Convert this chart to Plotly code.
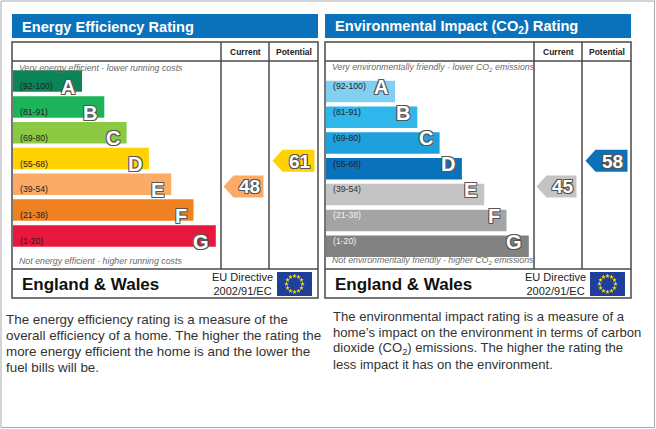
import plotly.graph_objects as go
import numpy as np

# rating bands shared by both charts
bands = ['A', 'B', 'C', 'D', 'E', 'F', 'G']
band_ranges = ['(92-100)', '(81-91)', '(69-80)', '(55-68)', '(39-54)', '(21-38)', '(1-20)']
band_lows = [92, 81, 69, 55, 39, 21, 1]

# energy efficiency chart
ee_colors = ['#0b8457', '#1bb45a', '#8cc942', '#ffd200', '#fbab66', '#f08121', '#e8173c']
ee_label_colors = ['#222'] * 7
ee_current = 48
ee_potential = 61

# environmental impact chart
ei_colors = ['#83cff1', '#2fb6eb', '#1da0dc', '#0a72ba', '#c4c4c4', '#a4a4a4', '#828282']
ei_label_colors = ['#222', '#222', '#222', '#222', '#333', '#f2f2f2', '#f2f2f2']
ei_current = 45
ei_potential = 58

ee_text = ['The energy efficiency rating is a measure of the',
           'overall efficiency of a home. The higher the rating the',
           'more energy efficient the home is and the lower the',
           'fuel bills will be.']
ei_text = ['The environmental impact rating is a measure of a',
           'home’s impact on the environment in terms of carbon',
           'dioxide (CO<sub>2</sub>) emissions. The higher the rating the',
           'less impact it has on the environment.']

W, H = 656, 429
FONT = 'Liberation Sans, Arial, sans-serif'
OUTLINE = '-1px -1px 0 #555, 1px -1px 0 #555, -1px 1px 0 #555, 1px 1px 0 #555'

fig = go.Figure()
shapes = []
annotations = []


def band_of(rating):
    for i, low in enumerate(band_lows):
        if rating >= low:
            return i
    return len(band_lows) - 1


def draw_panel(x0, title, top_text, bottom_text, colors, label_colors, current, potential):
    """Draws one EPC style panel starting at pixel x0"""
    right = x0 + 306
    col1 = x0 + 209
    col2 = x0 + 257
    bar_h = 21.5
    tops = [75.5 + 25.8 * i for i in range(7)]
    centers = [t + bar_h / 2 for t in tops]
    lengths = [69 + 22.3 * i for i in range(7)]

    # title bar
    shapes.append(dict(type='rect', x0=x0, x1=right, y0=14, y1=38,
                       fillcolor='#0a72ba', line_width=0, layer='below'))
    annotations.append(dict(x=x0 + 8, y=26.5, text='<b>' + title + '</b>', xanchor='left',
                            font=dict(size=14.6, color='white', family=FONT)))

    # table frame and grid
    line = dict(color='#4a4a4a', width=1.5)
    shapes.append(dict(type='rect', x0=x0, x1=right, y0=42, y1=298, line=line))
    shapes.append(dict(type='line', x0=x0, x1=right, y0=61, y1=61, line=line))
    shapes.append(dict(type='line', x0=x0, x1=right, y0=269, y1=269, line=line))
    shapes.append(dict(type='line', x0=col1, x1=col1, y0=42, y1=269, line=line))
    shapes.append(dict(type='line', x0=col2, x1=col2, y0=42, y1=269, line=line))
    annotations.append(dict(x=(col1 + col2) / 2, y=51.5, text='<b>Current</b>',
                            font=dict(size=8.5, color='#222', family=FONT)))
    annotations.append(dict(x=(col2 + right) / 2, y=51.5, text='<b>Potential</b>',
                            font=dict(size=8.5, color='#222', family=FONT)))

    annotations.append(dict(x=x0 + 5, y=67.5, text=top_text, xanchor='left',
                            font=dict(size=8.8, color='#6a6a6a', family=FONT, style='italic')))
    annotations.append(dict(x=x0 + 5, y=260.5, text=bottom_text, xanchor='left',
                            font=dict(size=8.8, color='#6a6a6a', family=FONT, style='italic')))

    # rating bars
    fig.add_trace(go.Bar(
        y=centers, x=lengths, base=x0 + 1, orientation='h', width=bar_h,
        marker=dict(color=colors, line_width=0), hoverinfo='skip', showlegend=False))
    for i in range(7):
        annotations.append(dict(x=x0 + 6, y=centers[i], text=band_ranges[i], xanchor='left',
                                font=dict(size=8.7, color=label_colors[i], family=FONT)))
        annotations.append(dict(x=x0 + 1 + lengths[i] - 5, y=centers[i] + 0.5,
                                text='<b>' + bands[i] + '</b>', xanchor='right',
                                font=dict(size=20, color='white', family=FONT, shadow=OUTLINE)))

    # current and potential arrows
    for rating, xl, xr in [(current, col1 + 2.5, col2 - 5.5), (potential, col2 + 3.5, right - 3.5)]:
        i = band_of(rating)
        yc = centers[i] - 3
        tip = 10
        fig.add_trace(go.Scatter(
            x=[xl, xl + tip, xr, xr, xl + tip, xl],
            y=[yc, yc - 11, yc - 11, yc + 11, yc + 11, yc],
            fill='toself', fillcolor=colors[i], mode='lines', line_width=0,
            hoverinfo='skip', showlegend=False))
        annotations.append(dict(x=(xl + tip + xr) / 2 + 1, y=yc + 0.5, text='<b>%d</b>' % rating,
                                font=dict(size=19, color='white', family=FONT, shadow=OUTLINE)))

    # footer with EU flag
    annotations.append(dict(x=x0 + 8, y=284, text='<b>England & Wales</b>', xanchor='left',
                            font=dict(size=17, color='#111', family=FONT)))
    annotations.append(dict(x=x0 + 230, y=284, text='EU Directive<br>2002/91/EC', align='center',
                            font=dict(size=11, color='#222', family=FONT)))
    fx0, fx1, fy0, fy1 = x0 + 265, x0 + 300, 272, 296
    shapes.append(dict(type='rect', x0=fx0, x1=fx1, y0=fy0, y1=fy1,
                       fillcolor='#1f3f99', line_width=0, layer='below'))
    ang = np.linspace(0, 2 * np.pi, 13)[:-1]
    fig.add_trace(go.Scatter(
        x=(fx0 + fx1) / 2 + 8 * np.cos(ang), y=(fy0 + fy1) / 2 + 8 * np.sin(ang),
        mode='markers', marker=dict(symbol='star', size=3.5, color='#ffdd00', line_width=0),
        hoverinfo='skip', showlegend=False))


draw_panel(12, 'Energy Efficiency Rating',
           'Very energy efficient - lower running costs',
           'Not energy efficient - higher running costs',
           ee_colors, ee_label_colors, ee_current, ee_potential)
draw_panel(325, 'Environmental Impact (CO<sub>2</sub>) Rating',
           'Very environmentally friendly - lower CO<sub>2</sub> emissions',
           'Not environmentally friendly - higher CO<sub>2</sub> emissions',
           ei_colors, ei_label_colors, ei_current, ei_potential)

# explanatory texts under the charts, one line each
for k, t in enumerate(ee_text):
    annotations.append(dict(x=4, y=319 + 16 * k, text=t, xanchor='left',
                            font=dict(size=13.4, color='#333', family=FONT)))
for k, t in enumerate(ei_text):
    annotations.append(dict(x=331, y=316 + 16 * k, text=t, xanchor='left',
                            font=dict(size=13.1, color='#333', family=FONT)))

# outer frame of the whole picture
shapes.append(dict(type='rect', x0=1, x1=W - 1.5, y0=1, y1=H - 1.5,
                   line=dict(color='#a8a8a8', width=1)))

for a in annotations:
    a.update(xref='x', yref='y', showarrow=False)

fig.update_layout(
    width=W, height=H, margin=dict(l=0, r=0, t=0, b=0),
    paper_bgcolor='white', plot_bgcolor='white',
    xaxis=dict(range=[0, W], visible=False, fixedrange=True),
    yaxis=dict(range=[H, 0], visible=False, fixedrange=True),
    shapes=shapes, annotations=annotations, showlegend=False)

fig.write_html("out.html", config={'displayModeBar': False},
               post_script="document.body.style.margin='0';document.body.style.overflow='hidden';")
